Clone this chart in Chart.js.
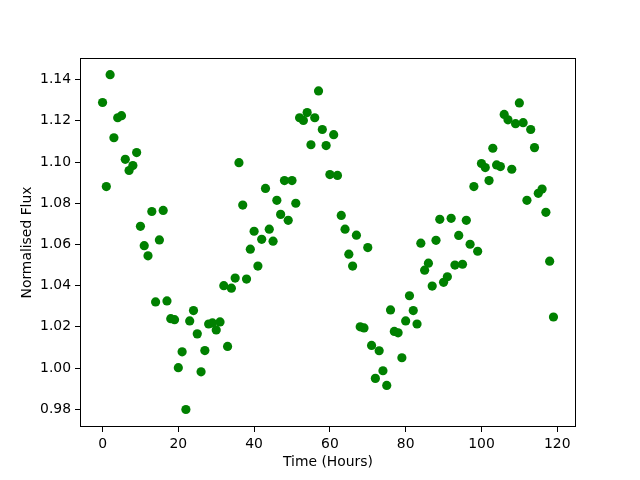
<!DOCTYPE html>
<html>
<head>
<meta charset="utf-8">
<script src="https://cdn.jsdelivr.net/npm/chart.js@4/dist/chart.umd.min.js"></script>
<style>
  html, body { margin: 0; padding: 0; background: #fff; }
  #wrap { width: 640px; height: 480px; }
</style>
</head>
<body>
<div id="wrap"><canvas id="fluxChart" width="640" height="480"></canvas></div>
<script>
// ------------------------------
// DATA
// ------------------------------

const hours = [];
for (let i = 0; i < 120; i++) hours.push(i);

const flux = [
    1.1289, 1.0881, 1.1424, 1.1118, 1.1215, 1.1225, 1.1013, 1.0959, 1.0983, 1.1046,
    1.0688, 1.0594, 1.0545, 1.0760, 1.0321, 1.0622, 1.0765, 1.0326, 1.0240, 1.0235,
    1.0002, 1.0079, 0.9799, 1.0229, 1.0279, 1.0166, 0.9982, 1.0085, 1.0214, 1.0219,
    1.0185, 1.0224, 1.0400, 1.0105, 1.0388, 1.0437, 1.0997, 1.0791, 1.0432, 1.0577,
    1.0664, 1.0495, 1.0625, 1.0872, 1.0674, 1.0616, 1.0814, 1.0746, 1.0910, 1.0717,
    1.0910, 1.0800, 1.1215, 1.1202, 1.1240, 1.1084, 1.1215, 1.1345, 1.1158, 1.1080,
    1.0939, 1.1133, 1.0935, 1.0741, 1.0674, 1.0553, 1.0495, 1.0645, 1.0200, 1.0195,
    1.0585, 1.0110, 0.9950, 1.0084, 0.9987, 0.9916, 1.0282, 1.0178, 1.0171, 1.0050,
    1.0229, 1.0351, 1.0279, 1.0214, 1.0606, 1.0475, 1.0509, 1.0398, 1.0620, 1.0722,
    1.0416, 1.0443, 1.0727, 1.0500, 1.0644, 1.0504, 1.0717, 1.0601, 1.0881, 1.0567,
    1.0993, 1.0973, 1.0910, 1.1067, 1.0986, 1.0978, 1.1231, 1.1205, 1.0965, 1.1186,
    1.1287, 1.1191, 1.0814, 1.1158, 1.1070, 1.0848, 1.0869, 1.0756, 1.0519, 1.0248
];

const xTicks = [0, 20, 40, 60, 80, 100, 120];
const yTicks = [0.98, 1.00, 1.02, 1.04, 1.06, 1.08, 1.10, 1.12, 1.14];

// ------------------------------
// CHART
// ------------------------------

const points = hours.map((h, i) => ({ x: h, y: flux[i] }));

// full box around the plot area, like matplotlib spines
const frame = {
    id: "frame",
    afterDraw(chart) {
        const a = chart.chartArea;
        const c = chart.ctx;
        c.save();
        c.strokeStyle = "#000";
        c.lineWidth = 1;
        c.strokeRect(Math.round(a.left) + 0.5, Math.round(a.top) + 0.5,
            Math.round(a.right - a.left) - 1, Math.round(a.bottom - a.top) - 1);
        c.restore();
    }
};

const font = { family: "'DejaVu Sans'", size: 13.9 };

new Chart(document.getElementById("fluxChart").getContext("2d"), {
    type: "scatter",
    data: {
        datasets: [{
            data: points,
            backgroundColor: "#008000",
            borderWidth: 0,
            pointRadius: 4.6,
            pointHoverRadius: 4.6
        }]
    },
    options: {
        responsive: false,
        animation: false,
        events: [],
        layout: { padding: { left: 0, top: 58, right: 64, bottom: 0 } },
        plugins: { legend: { display: false }, tooltip: { enabled: false } },
        scales: {
            x: {
                type: "linear",
                min: -5.95,
                max: 124.95,
                afterBuildTicks: (s) => { s.ticks = xTicks.map(v => ({ value: v })); },
                afterFit: (s) => { s.height = 53; },
                grid: { drawOnChartArea: false, drawTicks: true, tickLength: 5, color: "#000" },
                border: { display: false },
                ticks: { color: "#000", font: font, padding: 4, maxRotation: 0,
                    callback: (v) => String(v) },
                title: { display: true, text: "Time (Hours)", color: "#000", font: font,
                    padding: { top: 4, bottom: 9 } }
            },
            y: {
                min: 0.9714,
                max: 1.1505,
                afterBuildTicks: (s) => { s.ticks = yTicks.map(v => ({ value: v })); },
                afterFit: (s) => { s.width = 80; },
                grid: { drawOnChartArea: false, drawTicks: true, tickLength: 5, color: "#000" },
                border: { display: false },
                ticks: { color: "#000", font: font, padding: 4,
                    callback: (v) => v.toFixed(2) },
                title: { display: true, text: "Normalised Flux", color: "#000", font: font,
                    padding: { top: 19, bottom: 0 } }
            }
        }
    },
    plugins: [frame]
});
</script>
</body>
</html>
